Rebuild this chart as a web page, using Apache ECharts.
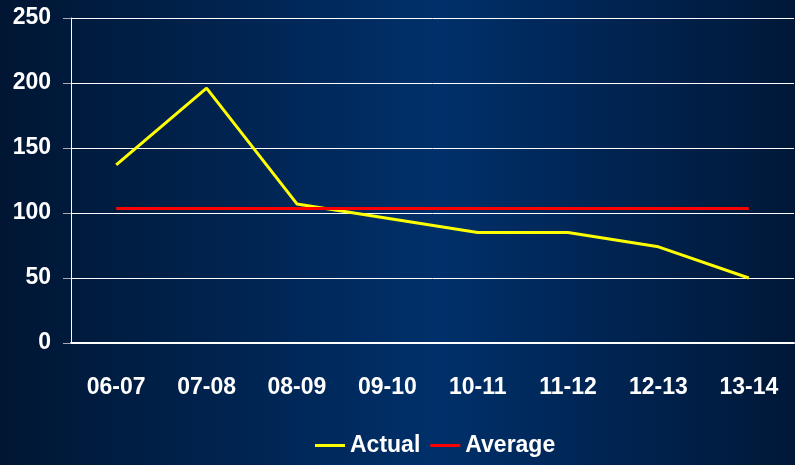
<!DOCTYPE html>
<html>
<head>
<meta charset="utf-8">
<script src="https://cdn.jsdelivr.net/npm/echarts@6/dist/echarts.min.js"></script>
<style>
html, body { margin: 0; padding: 0; }
#chart { width: 795px; height: 465px; }
</style>
</head>
<body>
<div id="chart"></div>
<script>
const categories = ['06-07', '07-08', '08-09', '09-10', '10-11', '11-12', '12-13', '13-14'];
const actual = [137, 196, 107, 96, 85, 85, 74, 50];
const average = [103.5, 103.5, 103.5, 103.5, 103.5, 103.5, 103.5, 103.5];

const font = 'Liberation Sans, Arial, sans-serif';

const chart = echarts.init(document.getElementById('chart'), null, { renderer: 'canvas' });
chart.setOption({
  animation: false,
  backgroundColor: {
    type: 'linear', x: 0, y: 0, x2: 1, y2: 0,
    colorStops: [
      { offset: 0, color: '#001633' },
      { offset: 0.55, color: '#00306a' },
      { offset: 1, color: '#001838' }
    ]
  },
  grid: { left: 71, right: 1, top: 18, bottom: 122 },
  legend: {
    bottom: 3,
    left: 310,
    itemWidth: 30,
    itemHeight: 3,
    itemGap: 10,
    icon: 'rect',
    textStyle: { color: '#fff', fontFamily: font, fontWeight: 'bold', fontSize: 23 },
    data: ['Actual', 'Average']
  },
  xAxis: {
    type: 'category',
    data: categories,
    boundaryGap: true,
    axisLine: { lineStyle: { color: '#fff', width: 2 } },
    axisTick: { length: 8, lineStyle: { color: '#fff', width: 1 } },
    axisLabel: { color: '#fff', fontFamily: font, fontWeight: 'bold', fontSize: 23, margin: 33 }
  },
  yAxis: {
    type: 'value',
    min: 0, max: 250, interval: 50,
    axisLine: { show: true, lineStyle: { color: '#fff', width: 1 } },
    axisTick: { show: true, length: 8, lineStyle: { color: '#aab' } },
    splitLine: { lineStyle: { color: '#fff', width: 1 } },
    axisLabel: { color: '#fff', fontFamily: font, fontWeight: 'bold', fontSize: 23, margin: 20 }
  },
  series: [
    {
      name: 'Actual', type: 'line', data: actual,
      symbol: 'none', color: '#ffff00',
      lineStyle: { width: 3, color: '#ffff00' }
    },
    {
      name: 'Average', type: 'line', data: average,
      symbol: 'none', color: '#ff0000',
      lineStyle: { width: 3, color: '#ff0000' }
    }
  ]
});
</script>
</body>
</html>
